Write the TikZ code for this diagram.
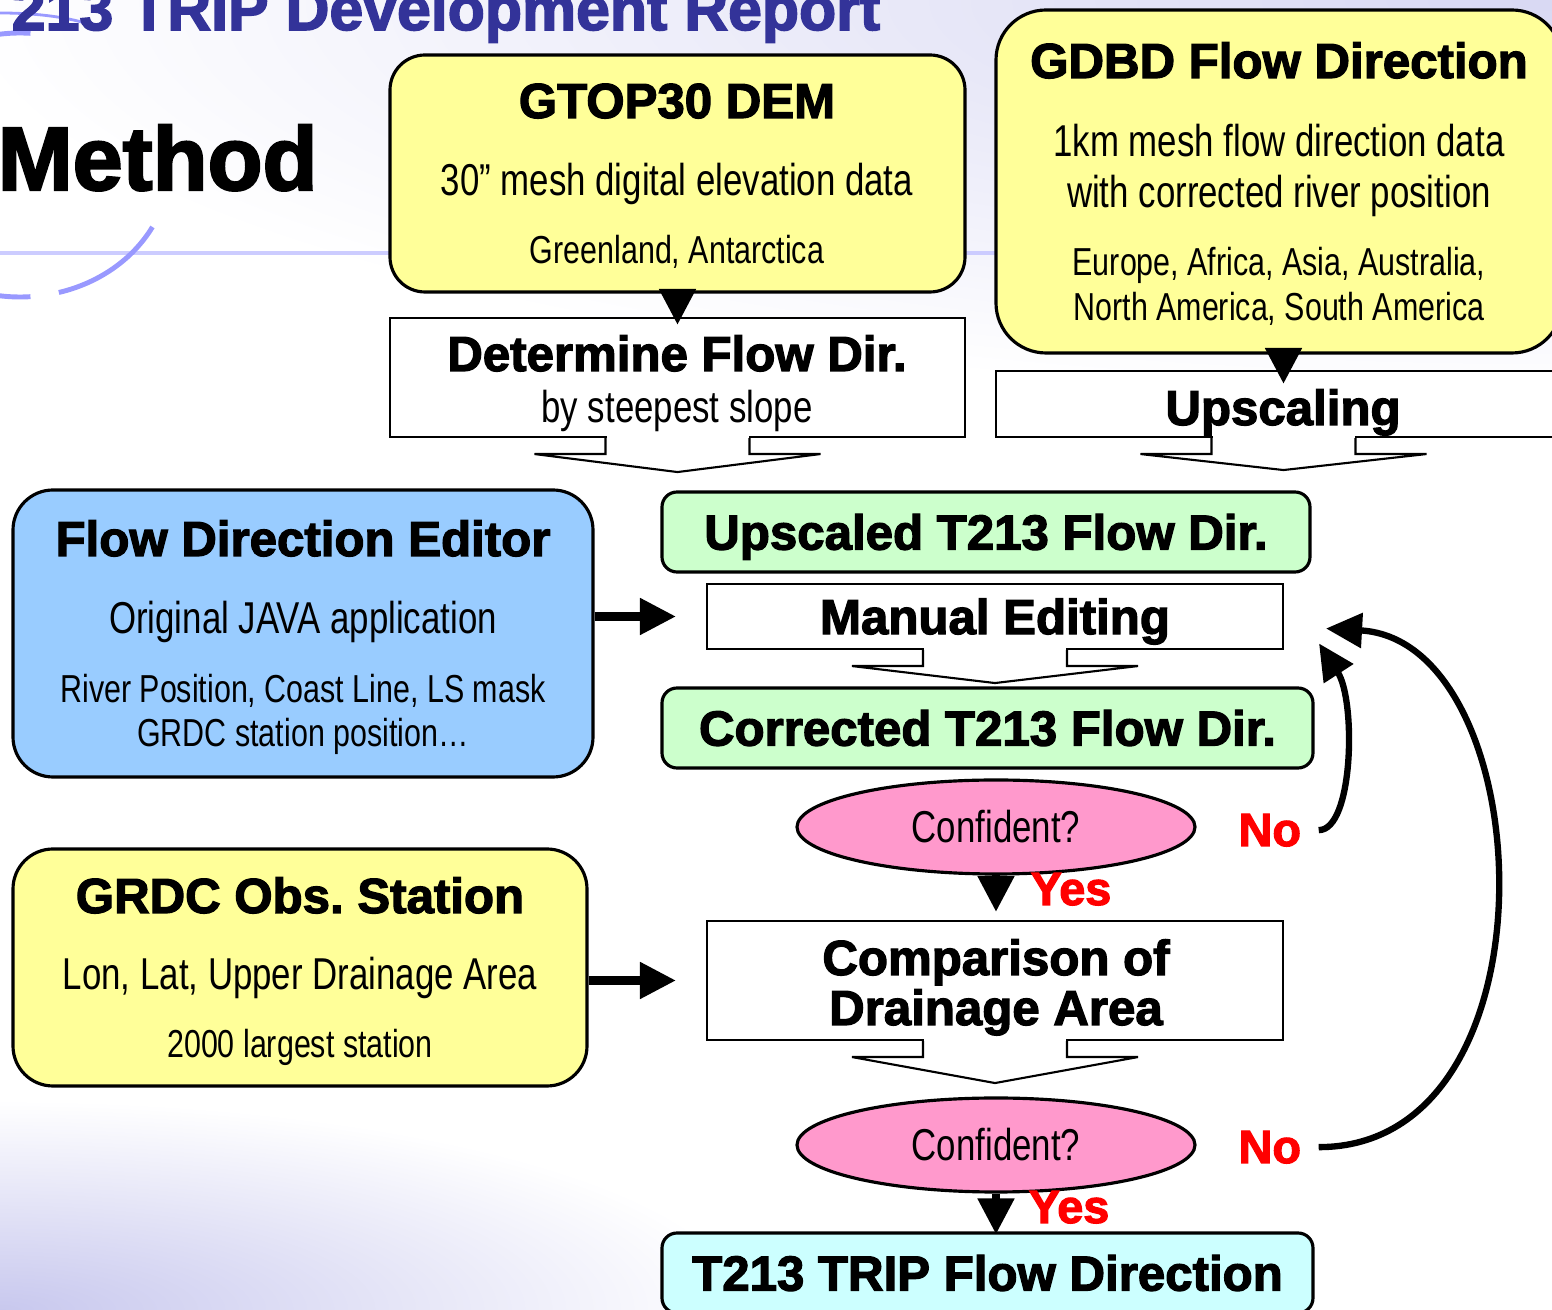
\documentclass[tikz,border=0pt]{standalone}
\usepackage{fontspec}
\setmainfont{Liberation Sans}
\newfontfamily\heavyfont[FakeBold=2.5]{Liberation Sans Bold}
\newfontfamily\narrowfont[FakeStretch=0.78]{Liberation Sans}
\usetikzlibrary{arrows.meta,shapes.geometric}

\definecolor{boxyellow}{HTML}{FFFF99}
\definecolor{boxblue}{HTML}{99CCFF}
\definecolor{boxgreen}{HTML}{CCFFCC}
\definecolor{boxcyan}{HTML}{CCFFFF}
\definecolor{boxpink}{HTML}{FF99CC}
\definecolor{titleblue}{HTML}{333399}
\definecolor{haze}{HTML}{C8C8EE}
\definecolor{decoline}{HTML}{CCCCFF}
\definecolor{decoarc}{HTML}{9999FF}

\begin{document}
\begin{tikzpicture}[
  hdr/.style={font=\heavyfont\fontsize{14}{16}\selectfont, anchor=base, inner sep=0pt},
  txt/.style={font=\narrowfont\fontsize{12.7}{15}\selectfont, anchor=base, inner sep=0pt},
  smalltxt/.style={font=\narrowfont\fontsize{11.1}{13}\selectfont, anchor=base, inner sep=0pt},
  answer/.style={font=\heavyfont\fontsize{13.3}{15}\selectfont, text=red, anchor=base west, inner sep=0pt},
  bigbox/.style={draw, line width=0.9pt, rounded corners=0.4cm, inner sep=0pt},
  stepbox/.style={draw, line width=0.6pt, fill=white, inner sep=0pt},
  onerow/.style={text height=10pt, text depth=0pt, font=\heavyfont\fontsize{14}{16}\selectfont},
  resbox/.style={draw, line width=0.9pt, rounded corners=0.15cm, inner sep=0pt,
    minimum width=6.51cm, minimum height=0.80cm, onerow},
  query/.style={ellipse, draw, line width=0.9pt, fill=boxpink, inner sep=0pt,
    minimum width=3.98cm, minimum height=0.94cm,
    font=\narrowfont\fontsize{12.7}{15}\selectfont},
  hollow/.style={line width=0.6pt},
  arr/.style={line width=2.3pt, -{Triangle[length=0.36cm, width=0.35cm]}},
  loop/.style={line width=1.8pt, -{Triangle[length=0.36cm, width=0.34cm]}}
]
  \useasboundingbox (0,0) rectangle (15.52,13.10);

  % === SFONDO ===
  \shade[inner color=haze!70!white, outer color=white] (15.52,13.10) ellipse (16 and 4);
  \shade[inner color=haze, outer color=white] (0,0) ellipse (7.5 and 2.1);

  % linee decorative in alto a sinistra
  \draw[decoline, line width=1.4pt] (0,10.57) -- (10.2,10.57);
  \draw[decoarc, line width=0.8pt] (0,12.97) .. controls (0.4,12.97) and (0.75,12.92) .. (1.0,12.82);
  \draw[decoarc, line width=1.4pt] (0.2,11.45) ++(98:1.5 and 1.32) arc[start angle=98, end angle=86, x radius=1.5, y radius=1.32];
  \draw[decoarc, line width=1.4pt] (0.2,11.45) ++(-28:1.5 and 1.32) arc[start angle=-28, end angle=-75, x radius=1.5, y radius=1.32];
  \draw[decoarc, line width=1.4pt] (0.2,11.45) ++(-86:1.5 and 1.32) arc[start angle=-86, end angle=-98, x radius=1.5, y radius=1.32];

  % titolo
  \node[font=\heavyfont\fontsize{17.3}{20}\selectfont, text=titleblue, anchor=base west, inner sep=0pt] (title) at (-0.26,12.80) {T213 TRIP Development Report};
  \node[font=\heavyfont\fontsize{25.6}{30}\selectfont, anchor=base west, inner sep=0pt] (method) at (-0.03,11.20) {Method};

  % === DATI DI INGRESSO ===
  \node[bigbox, fill=boxyellow, rounded corners=0.35cm, minimum width=5.75cm, minimum height=2.37cm] (gtop) at (6.775,11.365) {};
  \node[hdr] (gtopT) at (6.77,11.92) {GTOP30 DEM};
  \node[txt] (gtopA) at (6.77,11.14) {30” mesh digital elevation data};
  \node[smalltxt] (gtopB) at (6.77,10.46) {Greenland, Antarctica};

  \node[bigbox, fill=boxyellow, rounded corners=0.5cm, minimum width=5.66cm, minimum height=3.43cm] (gdbd) at (12.79,11.285) {};
  \node[hdr] (gdbdT) at (12.79,12.32) {GDBD Flow Direction};
  \node[txt] (gdbdA) at (12.79,11.53) {1km mesh flow direction data};
  \node[txt] (gdbdB) at (12.79,11.02) {with corrected river position};
  \node[smalltxt] (gdbdC) at (12.79,10.34) {Europe, Africa, Asia, Australia,};
  \node[smalltxt] (gdbdD) at (12.79,9.89) {North America, South America};

  % passi di elaborazione
  \node[stepbox, minimum width=5.75cm, minimum height=1.19cm] (detflow) at (6.775,9.325) {};
  \node[hdr] (detflowT) at (6.77,9.39) {Determine Flow Dir.};
  \node[txt] (detflowA) at (6.77,8.87) {by steepest slope};

  \node[stepbox, minimum width=5.75cm, minimum height=0.66cm] (upscale) at (12.835,9.06) {};
  \node[hdr] (upscaleT) at (12.83,8.85) {Upscaling};

  \draw[arr, shorten <=-0.12cm, shorten >=-0.08cm] (gtop.south) -- (detflow.north);
  \draw[arr, shorten <=-0.13cm, shorten >=-0.14cm] (upscale.north |- gdbd.south) -- (upscale.north);

  % === COLONNA CENTRALE ===
  \node[resbox, fill=boxgreen, minimum width=6.48cm] (upscaled) at (9.86,7.78) {Upscaled T213 Flow Dir.};
  \node[stepbox, minimum width=5.76cm, minimum height=0.65cm, onerow] (manual) at (9.95,6.935) {Manual Editing};
  \node[resbox, fill=boxgreen] (corrected) at (9.875,5.82) {Corrected T213 Flow Dir.};
  \node[query] (confA) at (9.96,4.83) {Confident?};

  \node[stepbox, minimum width=5.76cm, minimum height=1.19cm] (compare) at (9.95,3.295) {};
  \node[hdr] (compareT) at (9.96,3.35) {Comparison of};
  \node[hdr] (compareA) at (9.96,2.85) {Drainage Area};
  \node[query] (confB) at (9.96,1.65) {Confident?};
  \node[resbox, fill=boxcyan] (trip) at (9.875,0.37) {T213 TRIP Flow Direction};

  % frecce vuote sotto i passi
  \foreach \n/\h in {detflow/0.18, upscale/0.16, manual/0.17, compare/0.26} {
    \fill[white] ([xshift=-0.71cm, yshift=0.03cm]\n.south) rectangle ([xshift=0.71cm, yshift=-0.1cm]\n.south);
    \draw[hollow] ([xshift=-0.72cm]\n.south) -- ++(0,-0.16) -- ++(-0.71,0) -- ++(1.43,-\h)
      -- ++(1.43,\h) -- ++(-0.71,0) -- ++(0,0.16);
  }

  % risposte
  \node[answer] (yesA) at (10.30,4.05) {Yes};
  \node[answer] (noA) at (12.38,4.64) {No};
  \node[answer] (yesB) at (10.28,0.87) {Yes};
  \node[answer] (noB) at (12.38,1.47) {No};

  \draw[arr, shorten <=-0.02cm, shorten >=0.08cm] (confA.south) -- (confA.south |- compare.north);
  \draw[arr, shorten >=-0.03cm] (confB.south) -- (confB.south |- trip.north);

  % ritorno alla correzione manuale
  \draw[loop] ([xshift=0.17cm]noA.east) .. controls +(0.35,0) and +(0.37,-0.57) .. ([xshift=0.35cm, yshift=-0.27cm]manual.east);
  \draw[loop] ([xshift=0.17cm]noB.east) .. controls +(2.45,0) and +(2.15,-0.12) .. ([xshift=0.42cm, yshift=-0.12cm]manual.east);

  % === STRUMENTI A SINISTRA ===
  \node[bigbox, fill=boxblue, minimum width=5.80cm, minimum height=2.87cm] (editor) at (3.03,6.765) {};
  \node[hdr] (editorT) at (3.03,7.54) {Flow Direction Editor};
  \node[txt] (editorA) at (3.03,6.76) {Original JAVA application};
  \node[smalltxt] (editorB) at (3.03,6.07) {River Position, Coast Line, LS mask};
  \node[smalltxt] (editorC) at (3.03,5.63) {GRDC station position…};

  \node[bigbox, fill=boxyellow, minimum width=5.74cm, minimum height=2.37cm] (grdc) at (3.00,3.425) {};
  \node[hdr] (grdcT) at (3.00,3.97) {GRDC Obs.\ Station};
  \node[txt] (grdcA) at (3.00,3.20) {Lon, Lat, Upper Drainage Area};
  \node[smalltxt] (grdcB) at (3.00,2.52) {2000 largest station};

  \draw[arr, shorten >=0.30cm] (editor.east |- manual.west) -- (manual.west);
  \draw[arr, shorten >=0.30cm] (grdc.east |- compare.west) -- (compare.west);
\end{tikzpicture}
\end{document}
